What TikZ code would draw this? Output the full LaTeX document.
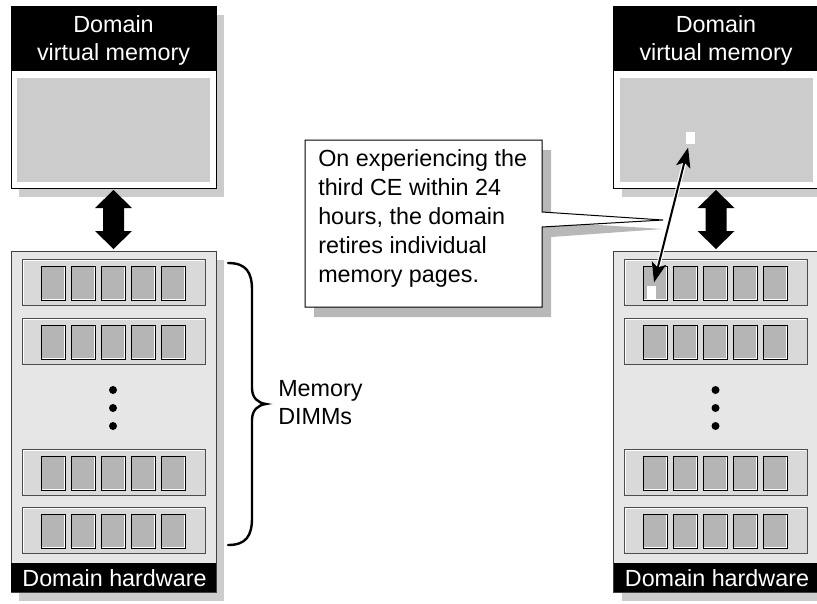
\documentclass[tikz,border=0pt]{standalone}
\usepackage{fontspec}
\setmainfont{Liberation Sans}
\usetikzlibrary{arrows.meta,calc}
\newcommand\pxu{0.75pt}
\definecolor{boxshade}{HTML}{CCCCCC}
\definecolor{noteshade}{HTML}{B8B8B8}
\definecolor{rackfill}{HTML}{E6E6E6}
\definecolor{rackline}{HTML}{404040}
\definecolor{dimmfill}{HTML}{D9D9D9}
\definecolor{dimmline}{HTML}{4D4D4D}
\definecolor{chipfill}{HTML}{B5B5B5}
\definecolor{vmfill}{HTML}{CCCCCC}
\tikzset{
  txt/.style={font=\fontsize{17.5}{21}\selectfont, inner sep=0pt},
  vmbox/.style={draw=black, line width=0.75pt, fill=white, minimum width=205*\pxu, minimum height=182*\pxu, inner sep=0pt},
  blackbar/.style={fill=black, minimum width=205*\pxu, inner sep=0pt},
  vmarea/.style={fill=vmfill, minimum width=193*\pxu, minimum height=104*\pxu, inner sep=0pt},
  rack/.style={draw=rackline, line width=0.75pt, fill=rackfill, minimum width=205*\pxu, minimum height=341*\pxu, inner sep=0pt},
  dimm/.style={draw=dimmline, line width=0.6pt, fill=dimmfill, minimum width=183*\pxu, minimum height=46*\pxu, inner sep=0pt},
  chip/.style={draw=black, line width=0.7pt, fill=chipfill, minimum width=24*\pxu, minimum height=34*\pxu, inner sep=0pt},
  pagemark/.style={fill=white, inner sep=0pt, minimum width=9*\pxu},
  bigarrow/.pic={
    \fill[black] (0,-29.5) -- (18.5,-11.5) -- (10.5,-11.5) -- (10.5,11.5) -- (18.5,11.5)
      -- (0,29.5) -- (-18.5,11.5) -- (-10.5,11.5) -- (-10.5,-11.5) -- (-18.5,-11.5) -- cycle;
  },
  tiny/.tip={Stealth[length=15pt,width=11pt,inset=3.5pt]},
}
\begin{document}
\begin{tikzpicture}[x=0.75pt,y=-0.75pt]
\useasboundingbox (0,0) rectangle (817,603);
\clip (0,0) rectangle (817,603);

% two copies of the memory stack: before and after page retirement
\foreach \s/\dx in {L/0,R/602.5}{
\begin{scope}[shift={(\dx,0)}]
  % drop shadows
  \fill[boxshade] (19,15) rectangle (224,197);
  \fill[boxshade] (19,260) rectangle (224,601);
  % virtual memory
  \node[vmbox] (vm\s) at (113.5,97) {};
  \node[blackbar, minimum height=65*\pxu] (vmh\s) at (113.5,38.5) {};
  \node[txt, text=white, align=center] (vmt\s) at (113.5,40.5) {Domain\\virtual memory};
  \node[vmarea] (vma\s) at (113.5,130) {};
  % hardware with its DIMMs
  \node[rack] (hw\s) at (113.5,421.5) {};
  \node[blackbar, minimum height=29*\pxu] (hwf\s) at (113.5,577.5) {};
  \node[txt, text=white] (hwt\s) at (114.5,578.5) {Domain hardware};
  \foreach \i/\t in {1/259,2/318,3/449,4/507}{
    \node[dimm] (d\s\i) at (113.5,\t+23) {};
    \draw[white, line width=0.6pt]
      ([shift={(1.1pt,1.1pt)}]d\s\i.south west) |- ([shift={(-1.1pt,-1.1pt)}]d\s\i.north east);
    \foreach \k in {0,...,4}{
      \node[chip] (c\s\i\k) at (53+30*\k,\t+24) {};
      \draw[white, line width=0.5pt]
        ([shift={(1pt,1pt)}]c\s\i\k.south west) -| ([shift={(-1pt,-1pt)}]c\s\i\k.north east);
    }
  }
  \foreach \yy in {390,408,426}
    \fill[black] (113,\yy) circle[radius=3pt];
  % transfer between memory and hardware
  \pic at ($(vm\s.south)!.5!(hw\s.north)$) {bigarrow};
\end{scope}
}

% brace over the DIMMs
\coordinate (bt) at (228,263);
\coordinate (bb) at (228,545);
\coordinate (bm) at (266,404);
\draw[line width=1.8pt, line cap=round]
  (bt) .. controls (246,263) and (252,272) .. (252,290) -- (252,388)
  .. controls (252,398) and (258,403) .. (bm)
  .. controls (258,405) and (252,410) .. (252,420) -- (252,518)
  .. controls (252,536) and (246,545) .. (bb);
\node[txt, align=left, anchor=west] (dimmlbl) at (278,402.5) {Memory\\DIMMs};

% callout
\coordinate (tip) at (663,220);
\fill[noteshade] (314,150) -- (551,150) -- (551,222) -- ($(tip)+(0,9)$) -- (551,237) -- (551,317) -- (314,317) -- cycle;
\draw[fill=white, line width=0.75pt, line join=miter]
  (305,140) -- (542,140) -- (542,212) -- (tip) -- (542,227) -- (542,307) -- (305,307) -- cycle;
\node[txt, font=\fontsize{17.5}{21.75}\selectfont, align=left, anchor=west] (note) at (318,218)
  {On experiencing the\\third CE within 24\\hours, the domain\\retires individual\\memory pages.};

% retired page and its physical frame
\node[pagemark, minimum height=12*\pxu] (page) at (690.5,138) {};
\node[pagemark, minimum height=13*\pxu] (frame) at (651.5,292.5) {};
\draw[white, line width=3.2pt, {tiny}-{tiny}, shorten <=2.5pt, shorten >=2.5pt] (page) -- (frame);
\draw[black, line width=1.5pt, {tiny}-{tiny}, shorten <=2.5pt, shorten >=2.5pt] (page) -- (frame);
\end{tikzpicture}
\end{document}
